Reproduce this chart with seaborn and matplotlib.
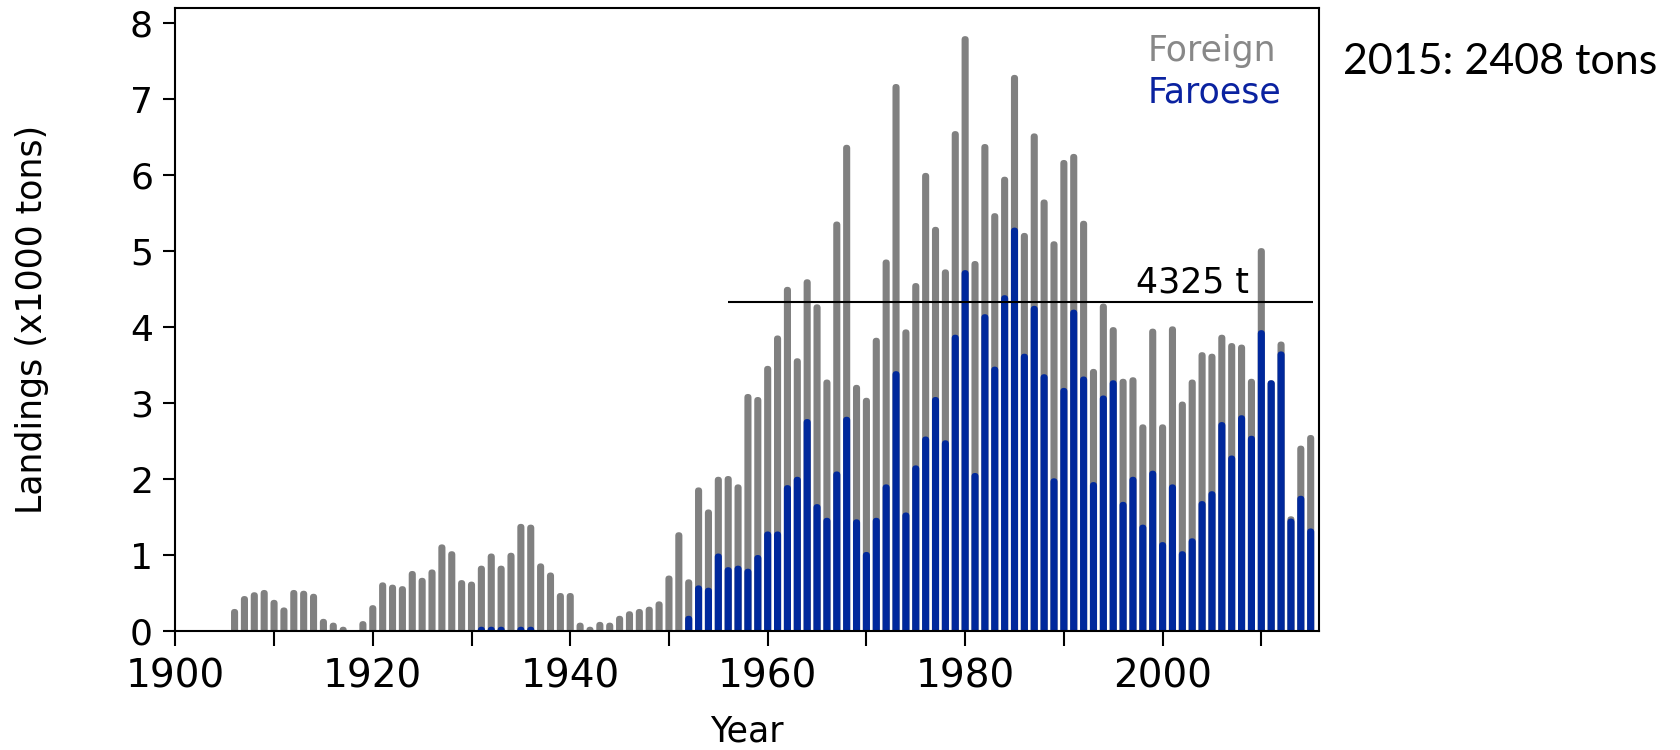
import numpy as np
import pandas as pd
import seaborn as sns
from matplotlib import pyplot as plt
from matplotlib.patches import FancyBboxPatch

years = list(range(1906, 2016))

# total landings (x1000 tons)
total = [
    0.29, 0.46, 0.51, 0.54, 0.41, 0.31, 0.54, 0.53, 0.49, 0.16,   # 1906-1915
    0.11, 0.03, 0.00, 0.13, 0.34, 0.64, 0.61, 0.59, 0.79, 0.70,   # 1916-1925
    0.81, 1.14, 1.05, 0.67, 0.65, 0.86, 1.02, 0.86, 1.03, 1.41,   # 1926-1935
    1.40, 0.89, 0.77, 0.50, 0.50, 0.11, 0.03, 0.12, 0.11, 0.20,   # 1936-1945
    0.26, 0.29, 0.32, 0.39, 0.73, 1.30, 0.68, 1.89, 1.60, 2.03,   # 1946-1955
    2.04, 1.93, 3.12, 3.08, 3.49, 3.89, 4.53, 3.59, 4.63, 4.30,   # 1956-1965
    3.31, 5.39, 6.40, 3.24, 3.07, 3.86, 4.89, 7.20, 3.97, 4.58,   # 1966-1975
    6.03, 5.32, 4.76, 6.58, 7.83, 4.87, 6.41, 5.50, 5.98, 7.32,   # 1976-1985
    5.24, 6.55, 5.68, 5.13, 6.20, 6.28, 5.40, 3.45, 4.31, 4.00,   # 1986-1995
    3.32, 3.34, 2.72, 3.98, 2.72, 4.01, 3.02, 3.31, 3.67, 3.65,   # 1996-2005
    3.90, 3.79, 3.77, 3.32, 5.04, 3.30, 3.81, 1.51, 2.44, 2.58,   # 2006-2015
]

# Faroese landings (x1000 tons)
faroese = [
    0.00, 0.00, 0.00, 0.00, 0.00, 0.00, 0.00, 0.00, 0.00, 0.00,   # 1906-1915
    0.00, 0.00, 0.00, 0.00, 0.00, 0.00, 0.00, 0.00, 0.00, 0.00,   # 1916-1925
    0.00, 0.00, 0.00, 0.00, 0.00, 0.02, 0.03, 0.02, 0.00, 0.03,   # 1926-1935
    0.03, 0.00, 0.00, 0.00, 0.00, 0.00, 0.00, 0.00, 0.00, 0.00,   # 1936-1945
    0.00, 0.00, 0.00, 0.00, 0.00, 0.00, 0.20, 0.60, 0.57, 1.02,   # 1946-1955
    0.84, 0.86, 0.82, 1.00, 1.31, 1.31, 1.92, 2.03, 2.79, 1.67,   # 1956-1965
    1.49, 2.10, 2.82, 1.47, 1.04, 1.49, 1.93, 3.42, 1.56, 2.18,   # 1966-1975
    2.56, 3.08, 2.51, 3.90, 4.75, 2.08, 4.17, 3.48, 4.42, 5.31,   # 1976-1985
    3.65, 4.28, 3.38, 2.01, 3.20, 4.23, 3.35, 1.96, 3.10, 3.30,   # 1986-1995
    1.70, 2.03, 1.40, 2.11, 1.17, 1.93, 1.05, 1.22, 1.71, 1.84,   # 1996-2005
    2.75, 2.31, 2.84, 2.57, 3.96, 3.30, 3.68, 1.48, 1.78, 1.35,   # 2006-2015
]

ref_level = 4.325
ref_start, ref_end = 1956, 2015.2

gray = "#808080"
blue = "#00289C"

df = pd.DataFrame({"Year": years, "Total": total, "Faroese": faroese})

sns.set_style("white", {"text.color": "black", "axes.labelcolor": "black",
                        "xtick.color": "black", "ytick.color": "black",
                        "axes.edgecolor": "black"})
plt.rcParams["font.family"] = ["DejaVu Sans"]

fig = plt.figure(figsize=(16.81, 7.5), dpi=100)
ax = fig.add_axes([0.1043, 0.1587, 0.6801, 0.8306])

sns.barplot(data=df, x="Year", y="Total", native_scale=True, width=0.72,
            color=gray, saturation=1, errorbar=None, ax=ax)
sns.barplot(data=df, x="Year", y="Faroese", native_scale=True, width=0.72,
            color=blue, saturation=1, errorbar=None, ax=ax)

ax.set_xlim(1900, 2015.8)
ax.set_ylim(0, 8.2)

# give the bars the round tops of the original (thick lines with round ends)
aspect = (8.2 / 623) / (115.8 / 1143)
for p in list(ax.patches):
    x, w, h = p.get_x(), p.get_width(), p.get_height()
    if h <= 0:
        p.remove()
        continue
    r = w / 2
    ry = r * aspect
    top = max(h, ry * 1.2)
    fb = FancyBboxPatch((x, -ry), w, top + ry,
                        boxstyle=f"round,pad=0,rounding_size={r}",
                        mutation_aspect=aspect, facecolor=p.get_facecolor(),
                        edgecolor="none", zorder=p.get_zorder())
    p.remove()
    ax.add_patch(fb)

ax.hlines(ref_level, ref_start, ref_end, color="black", lw=1.5, zorder=4)
ax.text(1997.3, 4.46, "4325 t", fontsize=25, ha="left", va="baseline")

ax.text(1998.5, 7.50, "Foreign", color="#888888", fontsize=25, va="baseline")
ax.text(1998.5, 6.95, "Faroese", color="#0A22A0", fontsize=25, va="baseline")

ax.set_xticks(range(1900, 2001, 20))
ax.set_xticks(range(1910, 2011, 20), minor=True)
ax.set_yticks(range(0, 9))
ax.tick_params(axis="x", which="both", direction="out", length=11, width=1.5,
               pad=8, labelsize=28, bottom=True)
ax.tick_params(axis="y", direction="out", length=9, width=1.5, pad=7,
               labelsize=26, left=True)

for s in ax.spines.values():
    s.set_visible(True)
    s.set_color("black")
    s.set_linewidth(1.5)

ax.set_xlabel("Year", fontsize=25, labelpad=14)
ax.set_ylabel("Landings (x1000 tons)", fontsize=25, labelpad=58)

fig.text(0.799, 0.917, "2015: 2408 tons", fontsize=31, va="center", ha="left",
         family=["Lato", "DejaVu Sans"])

fig.savefig("out.png", dpi=100)
